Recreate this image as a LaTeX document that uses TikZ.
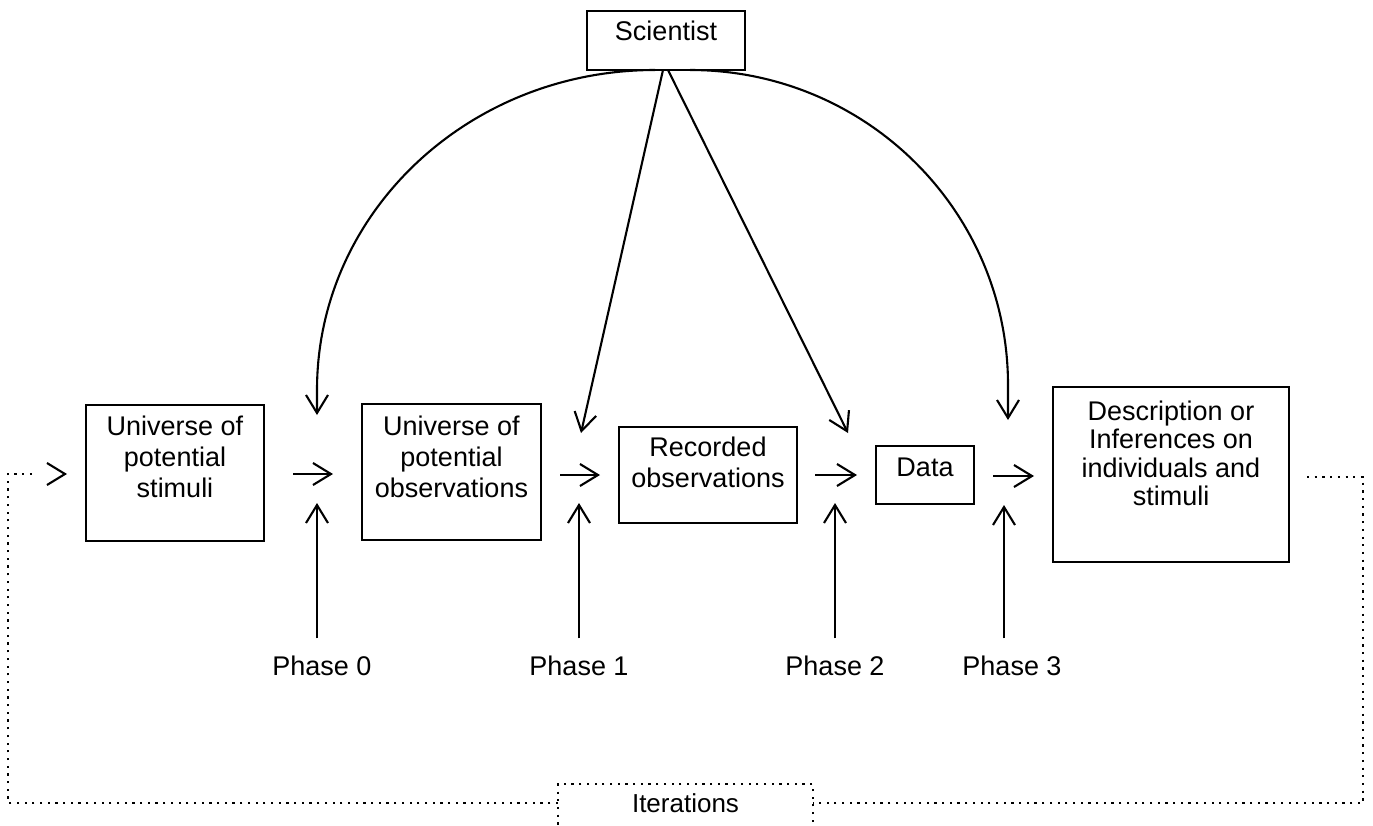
\documentclass[tikz,border=0pt]{standalone}
\usepackage{fontspec}
\setmainfont{Liberation Sans}
\usetikzlibrary{arrows.meta,calc}
% text block of fixed size, first baseline #3 below the top
\newcommand{\topstack}[4]{\begin{minipage}[t][#2pt][t]{#1pt}\centering\rule{0pt}{#3pt}#4\end{minipage}}
\begin{document}
\begin{tikzpicture}[x=1pt,y=-1pt,
  every node/.style={inner sep=0pt, outer sep=0pt},
  font=\fontsize{27}{31}\selectfont,
  box/.style={draw, line width=2.2pt, anchor=north west},
  link/.style={line width=2.1pt, -{Straight Barb[length=18pt,width=22pt]}},
  loopline/.style={line width=2.2pt, dash pattern=on 2.2pt off 5.5pt},
]
\useasboundingbox (0,0) rectangle (1373,825);
\clip (0,0) rectangle (1373,825);

% boxes
\node[box] (sci)  at (587,11)  {\topstack{158}{59}{29}{Scientist}};
\node[box] (stim) at (86,405)  {\topstack{178}{136}{30}{Universe of\\potential\\stimuli}};
\node[box] (obs)  at (362,404) {\topstack{179}{136}{31}{Universe of\\potential\\observations}};
\node[box] (rec)  at (619,427) {\topstack{178}{96}{29}{Recorded\\observations}};
\node[box] (data) at (876,446) {\topstack{98}{58}{30}{Data}};
\node[box, font=\fontsize{27}{28.5}\selectfont] (desc) at (1053,387)
  {\topstack{236}{175}{33}{Description or\\Inferences on\\individuals and\\stimuli}};
\node[box, loopline, font=\fontsize{26}{30}\selectfont] (iter) at (558,784)
  {\topstack{255}{60}{28}{Iterations}};

% phase labels
\node[anchor=base] (ph0) at (322,675)  {Phase 0};
\node[anchor=base] (ph1) at (579,675)  {Phase 1};
\node[anchor=base] (ph2) at (835,675)  {Phase 2};
\node[anchor=base] (ph3) at (1012,675) {Phase 3};

% arrow ends between the boxes
\coordinate (in0) at (317,415);
\coordinate (in1) at (581,433);
\coordinate (in2) at (848,433);
\coordinate (in3) at (1008,420);
\coordinate (up0) at (317,503);
\coordinate (up1) at (579,503);
\coordinate (up2) at (835,503);
\coordinate (up3) at (1004,505);
\coordinate (rc) at (1363,803);
\coordinate (lc) at (8,803);

% flow from box to box
\draw[link] ($(stim.east)+(29,1)$) -- ($(obs.west |- stim.east)+(-29,1)$);
\draw[link] ($(obs.east |- rec.west)+(19,0)$) -- ($(rec.west)+(-19,0)$);
\draw[link] ($(rec.east)+(18,0)$) -- ($(data.west |- rec.east)+(-19,0)$);
\draw[link] ($(data.east)+(19,1)$) -- ($(desc.west |- data.east)+(-19,1)$);

% the scientist acts on every phase
\draw[link] ($(sci.south)+(-11,0)$) .. controls +(-187,0) and +(0,-177) .. ($(in0)+(0,-25)$) -- (in0);
\draw[link] ($(sci.south)+(-3,0)$) -- (in1);
\draw[link] ($(sci.south)+(2,0)$) -- (in2);
\draw[link] ($(sci.south)+(24,0)$) .. controls +(176,0) and +(0,-174) .. ($(in3)+(0,-35)$) -- (in3);

% phases
\draw[link] ($(ph0.north -| up0)+(0,-17)$) -- (up0);
\draw[link] ($(ph1.north -| up1)+(0,-17)$) -- (up1);
\draw[link] ($(ph2.north -| up2)+(0,-17)$) -- (up2);
\draw[link] ($(ph3.north -| up3)+(0,-17)$) -- (up3);

% iteration loop
\draw[loopline] ($(desc.east)+(18,2.5)$) -| (rc) -- (iter.east |- rc);
\draw[loopline] (iter.west |- lc) -- (lc) |- ($(stim.west)+(-50,1)$);
\draw[link] ($(stim.west)+(-21,1)$) -- ($(stim.west)+(-19,1)$);
\end{tikzpicture}
\end{document}
